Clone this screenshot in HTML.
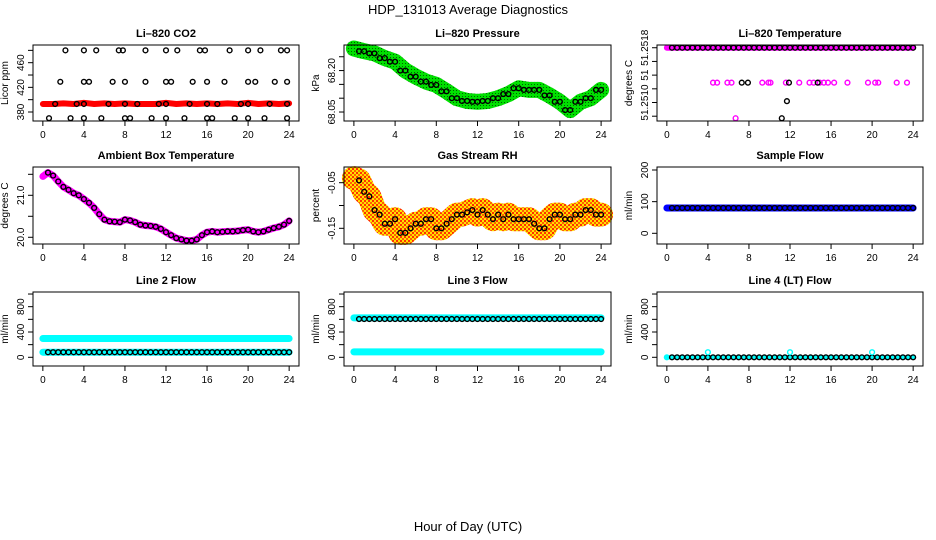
<!DOCTYPE html>
<html><head><meta charset="utf-8"><style>
html,body{margin:0;padding:0;background:#fff}
svg{display:block}
text{font-family:"Liberation Sans",Arial,sans-serif;fill:#000}
</style></head><body>
<svg id="chart" width="936" height="540" viewBox="0 0 936 540" xmlns="http://www.w3.org/2000/svg">
<defs>
<pattern id="rhpat" width="4" height="4" patternUnits="userSpaceOnUse"><rect width="4" height="4" fill="#ffe000"/><rect width="2" height="2" fill="#ff3000"/><rect x="2" y="2" width="2" height="2" fill="#ff6000"/></pattern>
<pattern id="prpat" width="3" height="3" patternUnits="userSpaceOnUse"><rect width="3" height="3" fill="#00e000"/><rect width="1" height="1" fill="#006000"/></pattern>
</defs>
<text x="468" y="14" font-size="13" text-anchor="middle">HDP_131013  Average Diagnostics</text>
<text x="468" y="531" font-size="13" text-anchor="middle">Hour of Day (UTC)</text>
</svg>
<script>
// ---- data ----
const hours = [0,1,2,3,4,5,6,7,8,9,10,11,12,13,14,15,16,17,18,19,20,21,22,23,24];
const halfHours = [0,0.5,1,1.5,2,2.5,3,3.5,4,4.5,5,5.5,6,6.5,7,7.5,8,8.5,9,9.5,10,10.5,11,11.5,12,12.5,13,13.5,14,14.5,15,15.5,16,16.5,17,17.5,18,18.5,19,19.5,20,20.5,21,21.5,22,22.5,23,23.5,24];
const xTicks = [0,4,8,12,16,20,24];
const xTickLabels = ['0','4','8','12','16','20','24'];

// CO2
const co2Red = [393,393,394,393,395,393,394,393,394,393,393,393,395,393,394,393,394,393,394,393,395,393,394,393,394];
const co2HiT = [2.2,4,5.2,7.4,7.8,10,12,13.1,15.3,15.8,18.2,20,21.2,23.2,23.8];
const co2MidT = [1.7,4,4.5,6.8,8,10,12,12.5,14.6,16,17.7,20,20.7,22.6,23.8];
const co2BaseT = [1.2,3.3,4,6.4,8,9.2,11.3,12,14.3,16,17,19.3,20,22.1,23.8];
const co2LowT = [0.6,2.7,4,5.7,8,8.5,10.6,12,13.8,16,16.5,18.7,20,21.6,23.8];
const co2Levels = [480,429,393,370];

// Pressure
const pressure = [68.28,68.27,68.262,68.245,68.232,68.2,68.178,68.16,68.148,68.125,68.10,68.09,68.087,68.09,68.10,68.115,68.136,68.13,68.13,68.11,68.087,68.057,68.087,68.10,68.13];

// Li-820 temperature
const tempTop = 51.2518;
const tempMidPinkT = [4.5,4.9,5.9,6.3,9.3,9.9,10.1,11.6,12.9,13.9,14.3,14.9,15.3,15.7,16.3,17.6,19.6,20.3,20.6,22.4,23.4];
const tempMidBlackT = [7.3,7.9,11.9,14.7];
const tempMidVal = 51.25129;
const tempLowBlack = [[11.7,51.25102],[11.2,51.25077]];
const tempLowPink = [[6.7,51.25077]];

// Ambient box temperature
const ambient = [21.45,21.54,21.47,21.33,21.2,21.13,21.05,21.0,20.91,20.82,20.7,20.55,20.42,20.38,20.37,20.36,20.42,20.4,20.36,20.3,20.28,20.27,20.25,20.2,20.12,20.05,19.98,19.95,19.92,19.92,19.95,20.05,20.12,20.14,20.12,20.13,20.14,20.14,20.15,20.17,20.18,20.14,20.12,20.14,20.18,20.22,20.25,20.3,20.39];

// Gas stream RH
const rh = [-0.04,-0.045,-0.07,-0.08,-0.11,-0.12,-0.14,-0.14,-0.13,-0.16,-0.16,-0.15,-0.14,-0.14,-0.13,-0.13,-0.15,-0.15,-0.14,-0.13,-0.12,-0.12,-0.115,-0.11,-0.12,-0.11,-0.12,-0.13,-0.12,-0.13,-0.12,-0.13,-0.13,-0.13,-0.13,-0.14,-0.15,-0.15,-0.13,-0.12,-0.12,-0.13,-0.13,-0.12,-0.12,-0.11,-0.11,-0.12,-0.12];

// Flows
const sampleFlow = 80;
const line2Upper = 297, line2Lower = 80;
const line3Upper = 622, line3Black = 605, line3Lower = 85;
const line4Base = 0, line4SpikeT = [4,12,20], line4SpikeV = 80;

// ---- layout ----
const svg = document.getElementById('chart');
const NS = 'http://www.w3.org/2000/svg';
const cols = [{l:33,r:299},{l:344,r:611},{l:657,r:923}];
const rows = [{t:45,b:121},{t:167,b:244},{t:292,b:366}];
function mk(tag, attrs, parent){const e=document.createElementNS(NS,tag);for(const k in attrs)e.setAttribute(k,attrs[k]);(parent||svg).appendChild(e);return e;}

function panel(ci, ri, name, title, ylab, ymin, ymax, yTicks, yLabels){
  const c=cols[ci], r=rows[ri];
  const g=mk('g',{});
  
  
  const xs=v=>c.l+(v+0.96)/25.92*(c.r-c.l);
  const ys=v=>r.b-(v-ymin)/(ymax-ymin)*(r.b-r.t);
  const t=mk('text',{x:(c.l+c.r)/2,y:r.t-8,'font-size':11,'font-weight':'bold','text-anchor':'middle'},g);
  t.textContent=title;
  
  
  const yl=mk('text',{x:0,y:0,'font-size':10,'text-anchor':'middle',transform:`translate(${c.l-25},${(r.t+r.b)/2}) rotate(-90)`},g);
  yl.textContent=ylab;
  
  
  const plot=mk('g',{},g);
  const box=mk('rect',{x:c.l,y:r.t,width:c.r-c.l,height:r.b-r.t,fill:'none',stroke:'#000','stroke-width':1},g);
  
  
  xTicks.forEach((v,i)=>{
    const x=xs(v);
    mk('line',{x1:x,x2:x,y1:r.b,y2:r.b+5,stroke:'#000'},g);
    const tl=mk('text',{x:x,y:r.b+17,'font-size':10,'text-anchor':'middle'},g);
    tl.textContent=xTickLabels[i];
    
    
  });
  yTicks.forEach((v,i)=>{
    const y=ys(v);
    mk('line',{x1:c.l-5,x2:c.l,y1:y,y2:y,stroke:'#000'},g);
    if(yLabels[i]){
      const tl=mk('text',{x:0,y:0,'font-size':10,'text-anchor':'middle',transform:`translate(${c.l-9},${y}) rotate(-90)`},g);
      tl.textContent=yLabels[i];
      
      
    }
  });
  return {xs,ys,g:plot};
}
function pts(P, tArr, vArr, color, name, r, sw){
  tArr.forEach((t,i)=>{
    const v=Array.isArray(vArr)?vArr[i]:vArr;
    const e=mk('circle',{cx:P.xs(t),cy:P.ys(v),r:r||2.4,fill:'none',stroke:color,'stroke-width':sw||1.4},P.g);
    
    
  });
}
function band(P, tArr, vArr, color, w, name, extra){
  const d=tArr.map((t,i)=>{const v=Array.isArray(vArr)?vArr[i]:vArr;return (i?'L':'M')+P.xs(t).toFixed(1)+','+P.ys(v).toFixed(1);}).join(' ');
  const e=mk('path',Object.assign({d:d,fill:'none',stroke:color,'stroke-width':w,'stroke-linejoin':'round','stroke-linecap':'round'},extra||{}),P.g);
  
  
}

// CO2
let P=panel(0,0,'co2','Li\u2013820 CO2','Licor ppm',365.4,488.7,[380,400,420,440,460,480],['380','','420','','460','']);
band(P,hours,co2Red,'#ff0000',6,'co2-band');
pts(P,co2HiT,co2Levels[0],'#000','co2-point');
pts(P,co2MidT,co2Levels[1],'#000','co2-point');
pts(P,co2BaseT,co2Levels[2],'#000','co2-point');
pts(P,co2LowT,co2Levels[3],'#000','co2-point');

// Pressure
P=panel(1,0,'pressure','Li\u2013820 Pressure','kPa',68.0175,68.2925,[68.05,68.10,68.15,68.20,68.25],['68.05','','','68.20','']);
band(P,hours,pressure,'url(#prpat)',16,'pressure-band');
pts(P,halfHours.slice(1),halfHours.slice(1).map((t,i)=>pressure[Math.min(24,Math.round(t))]),'#000','pressure-point');

// Temperature
P=panel(2,0,'li820-temp','Li\u2013820 Temperature','degrees C',51.25073,51.25184,[51.2508,51.2510,51.2512,51.2514,51.2516,51.2518],['','51.2510','','51','','51.2518']);
band(P,[0,24],tempTop,'#ff00ff',6,'temp-band');
pts(P,halfHours.slice(1),tempTop,'#000','temp-point',2.4,1.4);
pts(P,tempMidPinkT,tempMidVal,'#ff00ff','temp-point-pink');
pts(P,tempMidBlackT,tempMidVal,'#000','temp-point');
pts(P,tempLowBlack.map(p=>p[0]),tempLowBlack.map(p=>p[1]),'#000','temp-point');
pts(P,tempLowPink.map(p=>p[0]),tempLowPink.map(p=>p[1]),'#ff00ff','temp-point-pink');

// Ambient
P=panel(0,1,'ambient','Ambient Box Temperature','degrees C',19.84,21.674,[20.0,20.5,21.0,21.5],['20.0','','21.0','']);
band(P,halfHours,ambient,'#ff00ff',7,'ambient-band');
pts(P,halfHours.slice(1),ambient.slice(1),'#000','ambient-point');

// RH
P=panel(1,1,'rh','Gas Stream RH','percent',-0.1844,-0.0156,[-0.15,-0.10,-0.05],['-0.15','','-0.05']);
band(P,halfHours,rh,'url(#rhpat)',24,'rh-band');
pts(P,halfHours.slice(1),rh.slice(1),'#000','rh-point');

// Sample flow
P=panel(2,1,'sample-flow','Sample Flow','ml/min',-33.8,209.5,[0,100,200],['0','100','200']);
band(P,[0,24],sampleFlow,'#0000ff',7,'sample-flow-band');
pts(P,halfHours.slice(1),sampleFlow,'#000','sample-flow-point');

// Line 2
P=panel(0,2,'line2','Line 2 Flow','ml/min',-137.5,1032,[0,200,400,600,800,1000],['0','','400','','800','']);
band(P,[0,24],line2Upper,'#00ffff',7,'line2-upper-band');
band(P,[0,24],line2Lower,'#00ffff',7,'line2-lower-band');
pts(P,halfHours.slice(1),line2Lower,'#000','line2-point');

// Line 3
P=panel(1,2,'line3','Line 3 Flow','ml/min',-137.5,1032,[0,200,400,600,800,1000],['0','','400','','800','']);
band(P,[0,24],line3Upper,'#00ffff',7,'line3-upper-band');
band(P,[0,24],line3Lower,'#00ffff',7,'line3-lower-band');
pts(P,halfHours.slice(1),line3Black,'#000','line3-point');

// Line 4
P=panel(2,2,'line4','Line 4 (LT) Flow','ml/min',-137.5,1032,[0,200,400,600,800,1000],['0','','400','','800','']);
band(P,[0,24],line4Base,'#00ffff',4,'line4-band');
pts(P,[0],line4Base,'#00ffff','line4-point-cyan');
pts(P,halfHours.slice(1),line4Base,'#000','line4-point');
pts(P,line4SpikeT,line4SpikeV,'#00ffff','line4-spike');
</script>
</body></html>
